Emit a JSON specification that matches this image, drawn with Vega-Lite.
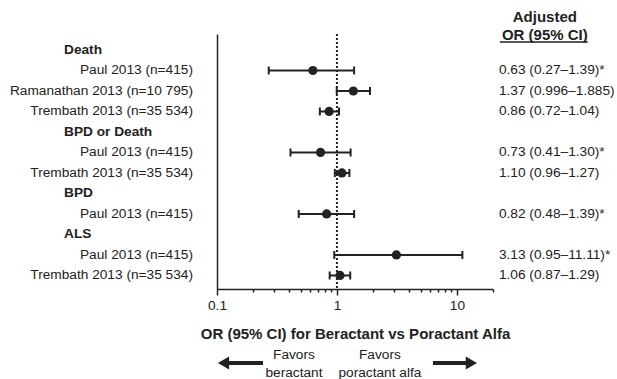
{
  "$schema": "https://vega.github.io/schema/vega-lite/v6.json",
  "width": 276,
  "height": 255,
  "autosize": {"type": "none"},
  "padding": {"left": 217, "top": 34, "right": 124, "bottom": 90},
  "background": "white",
  "config": {"view": {"stroke": null}, "font": "Liberation Sans"},
  "data": {
    "values": [
      {"row": 0, "kind": "group", "label": "Death"},
      {"row": 1, "kind": "study", "label": "Paul 2013 (n=415)", "or": 0.63, "lo": 0.27, "hi": 1.39, "text": "0.63 (0.27–1.39)*"},
      {"row": 2, "kind": "study", "label": "Ramanathan 2013 (n=10 795)", "or": 1.37, "lo": 0.996, "hi": 1.885, "text": "1.37 (0.996–1.885)"},
      {"row": 3, "kind": "study", "label": "Trembath 2013 (n=35 534)", "or": 0.86, "lo": 0.72, "hi": 1.04, "text": "0.86 (0.72–1.04)"},
      {"row": 4, "kind": "group", "label": "BPD or Death"},
      {"row": 5, "kind": "study", "label": "Paul 2013 (n=415)", "or": 0.73, "lo": 0.41, "hi": 1.30, "text": "0.73 (0.41–1.30)*"},
      {"row": 6, "kind": "study", "label": "Trembath 2013 (n=35 534)", "or": 1.10, "lo": 0.96, "hi": 1.27, "text": "1.10 (0.96–1.27)"},
      {"row": 7, "kind": "group", "label": "BPD"},
      {"row": 8, "kind": "study", "label": "Paul 2013 (n=415)", "or": 0.82, "lo": 0.48, "hi": 1.39, "text": "0.82 (0.48–1.39)*"},
      {"row": 9, "kind": "group", "label": "ALS"},
      {"row": 10, "kind": "study", "label": "Paul 2013 (n=415)", "or": 3.13, "lo": 0.95, "hi": 11.11, "text": "3.13 (0.95–11.11)*"},
      {"row": 11, "kind": "study", "label": "Trembath 2013 (n=35 534)", "or": 1.06, "lo": 0.87, "hi": 1.29, "text": "1.06 (0.87–1.29)"}
    ]
  },
  "layer": [
    {
      "transform": [{"filter": "datum.kind === 'study'"}],
      "mark": {"type": "rule", "strokeWidth": 2, "color": "#222"},
      "encoding": {
        "x": {
          "field": "lo", "type": "quantitative",
          "scale": {"type": "log", "domain": [0.1, 20], "nice": false},
          "axis": {
            "title": "OR (95% CI) for Beractant vs Poractant Alfa",
            "values": [0.1, 0.2, 0.3, 0.4, 0.5, 0.6, 0.7, 0.8, 0.9, 1, 2, 3, 4, 5, 6, 7, 8, 9, 10, 20],
            "labelExpr": "datum.value === 0.1 ? '0.1' : datum.value === 1 ? '1' : datum.value === 10 ? '10' : ''",
            "tickSize": {"condition": {"test": "datum.value === 0.1 || datum.value === 1 || datum.value === 10", "value": 6}, "value": 3},
            "grid": false,
            "domainColor": "#222", "domainWidth": 1.5,
            "tickColor": "#222", "tickWidth": 1.5,
            "labelFontSize": 13.7, "labelColor": "#222", "labelPadding": 3,
            "labelFlush": false, "labelOverlap": false,
            "titleFontSize": 15, "titleFontWeight": "bold", "titleColor": "#222", "titlePadding": 15
          }
        },
        "x2": {"field": "hi"},
        "y": {
          "field": "row", "type": "quantitative",
          "scale": {"domain": [-0.78, 11.66], "reverse": true, "nice": false, "zero": false},
          "axis": {"domain": true, "ticks": false, "labels": false, "grid": false, "title": null, "domainColor": "#222", "domainWidth": 1.5}
        }
      }
    },
    {
      "data": {"values": [{}]},
      "mark": {"type": "rule", "strokeDash": [2, 2], "strokeWidth": 2, "color": "#222"},
      "encoding": {"x": {"datum": 1, "type": "quantitative"}}
    },
    {
      "transform": [{"filter": "datum.kind === 'study'"}],
      "mark": {"type": "tick", "orient": "vertical", "size": 8, "thickness": 2, "color": "#222", "opacity": 1},
      "encoding": {"x": {"field": "lo", "type": "quantitative"}, "y": {"field": "row", "type": "quantitative"}}
    },
    {
      "transform": [{"filter": "datum.kind === 'study'"}],
      "mark": {"type": "tick", "orient": "vertical", "size": 8, "thickness": 2, "color": "#222", "opacity": 1},
      "encoding": {"x": {"field": "hi", "type": "quantitative"}, "y": {"field": "row", "type": "quantitative"}}
    },
    {
      "transform": [{"filter": "datum.kind === 'study'"}],
      "mark": {"type": "point", "shape": "circle", "filled": true, "size": 85, "opacity": 1, "color": "#222"},
      "encoding": {"x": {"field": "or", "type": "quantitative"}, "y": {"field": "row", "type": "quantitative"}}
    },
    {
      "transform": [{"filter": "datum.kind === 'study'"}],
      "mark": {"type": "text", "align": "right", "baseline": "middle", "dx": -24, "fontSize": 13.7, "color": "#222"},
      "encoding": {"x": {"datum": 0.1, "type": "quantitative"}, "y": {"field": "row", "type": "quantitative"}, "text": {"field": "label"}}
    },
    {
      "transform": [{"filter": "datum.kind === 'group'"}],
      "mark": {"type": "text", "align": "left", "baseline": "middle", "dx": -153, "fontSize": 13.7, "fontWeight": "bold", "color": "#222"},
      "encoding": {"x": {"datum": 0.1, "type": "quantitative"}, "y": {"field": "row", "type": "quantitative"}, "text": {"field": "label"}}
    },
    {
      "transform": [{"filter": "datum.kind === 'study'"}],
      "mark": {"type": "text", "align": "left", "baseline": "middle", "fontSize": 13.7, "color": "#222"},
      "encoding": {"x": {"datum": 22.4, "type": "quantitative"}, "y": {"field": "row", "type": "quantitative"}, "text": {"field": "text"}}
    },
    {
      "data": {"values": [{"t": "Adjusted\nOR (95% CI)"}]},
      "mark": {"type": "text", "align": "center", "baseline": "middle", "lineBreak": "\n", "lineHeight": 18, "fontSize": 15, "fontWeight": "bold", "color": "#222"},
      "encoding": {"x": {"datum": 54.1, "type": "quantitative"}, "y": {"datum": -1.61, "type": "quantitative"}, "text": {"field": "t"}}
    },
    {
      "data": {"values": [{}]},
      "mark": {"type": "rule", "strokeWidth": 1.5, "color": "#222"},
      "encoding": {"x": {"datum": 22.8, "type": "quantitative"}, "x2": {"datum": 123.5}, "y": {"datum": -0.39, "type": "quantitative"}}
    },
    {
      "data": {"values": [{"t": "Favors\nberactant", "p": 0.438}, {"t": "Favors\nporactant alfa", "p": 2.28}]},
      "mark": {"type": "text", "align": "center", "baseline": "middle", "lineBreak": "\n", "lineHeight": 18, "fontSize": 13.7, "color": "#222"},
      "encoding": {"x": {"field": "p", "type": "quantitative"}, "y": {"datum": 14.88, "type": "quantitative"}, "text": {"field": "t"}}
    },
    {
      "data": {"values": [{"a": 0.115, "b": 0.242}, {"a": 6.31, "b": 12.5}]},
      "mark": {"type": "rule", "strokeWidth": 4, "color": "#222"},
      "encoding": {"x": {"field": "a", "type": "quantitative"}, "x2": {"field": "b"}, "y": {"datum": 15.27, "type": "quantitative"}}
    },
    {
      "data": {"values": [{"p": 0.1133, "s": "triangle-left"}, {"p": 13.21, "s": "triangle-right"}]},
      "mark": {"type": "point", "filled": true, "size": 170, "opacity": 1, "color": "#222"},
      "encoding": {"x": {"field": "p", "type": "quantitative"}, "y": {"datum": 15.27, "type": "quantitative"}, "shape": {"field": "s", "type": "nominal", "scale": null, "legend": null}}
    }
  ]
}
